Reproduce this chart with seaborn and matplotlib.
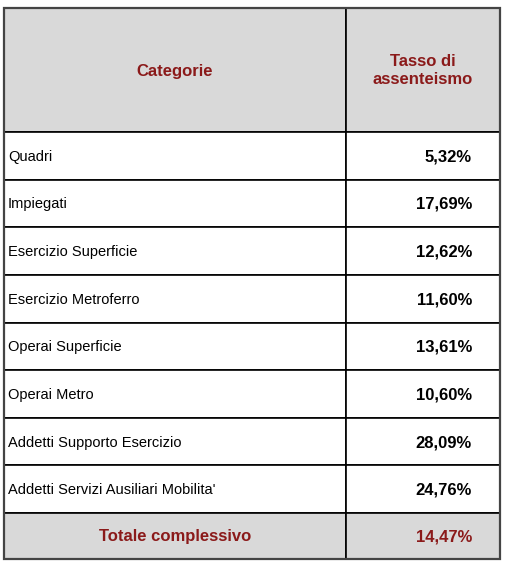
import matplotlib
matplotlib.use("Agg")
import matplotlib.pyplot as plt
import seaborn as sns
from matplotlib.patches import Rectangle

sns.set_theme(style="white")
plt.rcParams['font.family'] = ['Liberation Sans', 'DejaVu Sans']

header = ["Categorie", "Tasso di\nassenteismo"]
categories = ["Quadri", "Impiegati", "Esercizio Superficie", "Esercizio Metroferro",
              "Operai Superficie", "Operai Metro", "Addetti Supporto Esercizio",
              "Addetti Servizi Ausiliari Mobilita'"]
values = ["5,32%", "17,69%", "12,62%", "11,60%", "13,61%", "10,60%", "28,09%", "24,76%"]
total_label = "Totale complessivo"
total_value = "14,47%"

W, H = 508, 561
fig = plt.figure(figsize=(W/100, H/100), dpi=100)
ax = fig.add_axes([0, 0, 1, 1])
ax.set_xlim(0, W); ax.set_ylim(H, 0); ax.axis('off')

red = '#8b1a1a'
gray = '#d9d9d9'
x0, xm, x1 = 4, 346, 500
y_head = (8, 132)
row_h = (513 - 132) / len(categories)

def cell(xa, xb, ya, yb, fc):
    ax.add_patch(Rectangle((xa, ya), xb-xa, yb-ya, facecolor=fc, edgecolor='black', lw=1.2))

cell(x0, xm, *y_head, gray); cell(xm, x1, *y_head, gray)
ax.text((x0+xm)/2, 71, header[0], ha='center', va='center', color=red, fontsize=12, fontweight='bold')
ax.text((xm+x1)/2, 70, header[1], ha='center', va='center', color=red, fontsize=12, fontweight='bold', linespacing=1.25)

for i, (c, v) in enumerate(zip(categories, values)):
    ya = 132 + i*row_h; yb = ya + row_h
    cell(x0, xm, ya, yb, 'white'); cell(xm, x1, ya, yb, 'white')
    ax.text(x0+4, (ya+yb)/2 + 1, c, ha='left', va='center', fontsize=10.5, color='black')
    ax.text(x1-28, (ya+yb)/2 + 1, v, ha='right', va='center', fontsize=12, fontweight='bold', color='black')

ya, yb = 513, 559
cell(x0, xm, ya, yb, gray); cell(xm, x1, ya, yb, gray)
ax.text((x0+xm)/2, (ya+yb)/2 + 1, total_label, ha='center', va='center', color=red, fontsize=12, fontweight='bold')
ax.text(x1-28, (ya+yb)/2 + 1, total_value, ha='right', va='center', color=red, fontsize=12, fontweight='bold')
ax.add_patch(Rectangle((x0, 8), x1-x0, 551, fill=False, edgecolor='#444444', lw=1.6))

fig.savefig("out.png", dpi=100)
